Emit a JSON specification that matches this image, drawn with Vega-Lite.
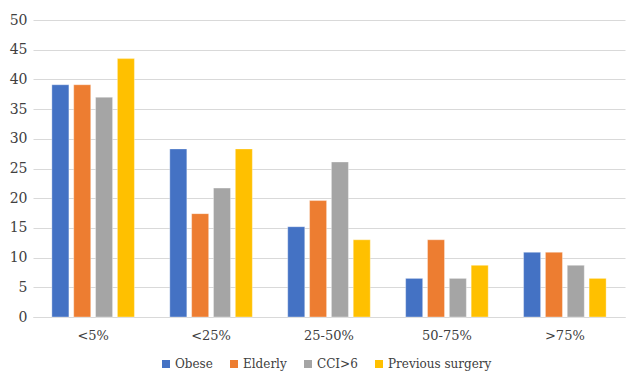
{
  "$schema": "https://vega.github.io/schema/vega-lite/v6.json",
  "autosize": {"type": "none"},
  "width": 592,
  "height": 297,
  "padding": {"left": 33, "top": 20, "right": 7, "bottom": 57},
  "background": "white",
  "config": {
    "view": {"stroke": null},
    "font": "DejaVu Serif"
  },
  "data": {
    "values": [
      {"range": "<5%", "group": "Obese", "value": 39.1},
      {"range": "<5%", "group": "Elderly", "value": 39.1},
      {"range": "<5%", "group": "CCI>6", "value": 37.0},
      {"range": "<5%", "group": "Previous surgery", "value": 43.5},
      {"range": "<25%", "group": "Obese", "value": 28.3},
      {"range": "<25%", "group": "Elderly", "value": 17.4},
      {"range": "<25%", "group": "CCI>6", "value": 21.7},
      {"range": "<25%", "group": "Previous surgery", "value": 28.3},
      {"range": "25-50%", "group": "Obese", "value": 15.2},
      {"range": "25-50%", "group": "Elderly", "value": 19.6},
      {"range": "25-50%", "group": "CCI>6", "value": 26.1},
      {"range": "25-50%", "group": "Previous surgery", "value": 13.0},
      {"range": "50-75%", "group": "Obese", "value": 6.5},
      {"range": "50-75%", "group": "Elderly", "value": 13.0},
      {"range": "50-75%", "group": "CCI>6", "value": 6.5},
      {"range": "50-75%", "group": "Previous surgery", "value": 8.7},
      {"range": ">75%", "group": "Obese", "value": 10.9},
      {"range": ">75%", "group": "Elderly", "value": 10.9},
      {"range": ">75%", "group": "CCI>6", "value": 8.7},
      {"range": ">75%", "group": "Previous surgery", "value": 6.5}
    ]
  },
  "mark": {"type": "bar", "stroke": "white", "strokeOpacity": 0.35, "strokeWidth": 1},
  "encoding": {
    "x": {
      "field": "range",
      "type": "nominal",
      "sort": ["<5%", "<25%", "25-50%", "50-75%", ">75%"],
      "scale": {"paddingInner": 0.3, "paddingOuter": 0.16},
      "axis": {
        "title": null,
        "labelAngle": 0,
        "labelFont": "DejaVu Serif",
        "labelFontSize": 13,
        "labelColor": "#404040",
        "labelPadding": 12,
        "ticks": false,
        "domainColor": "#D9D9D9",
        "domainWidth": 1
      }
    },
    "xOffset": {
      "field": "group",
      "type": "nominal",
      "sort": ["Obese", "Elderly", "CCI>6", "Previous surgery"],
      "scale": {"paddingInner": 0.22, "paddingOuter": 0}
    },
    "y": {
      "field": "value",
      "type": "quantitative",
      "scale": {"domain": [0, 50]},
      "axis": {
        "title": null,
        "values": [0, 5, 10, 15, 20, 25, 30, 35, 40, 45, 50],
        "labelFont": "DejaVu Serif",
        "labelFontSize": 14,
        "labelColor": "#404040",
        "labelPadding": 6,
        "ticks": false,
        "domain": false,
        "gridColor": "#D9D9D9",
        "gridWidth": 1
      }
    },
    "color": {
      "field": "group",
      "type": "nominal",
      "sort": ["Obese", "Elderly", "CCI>6", "Previous surgery"],
      "scale": {
        "domain": ["Obese", "Elderly", "CCI>6", "Previous surgery"],
        "range": ["#4472C4", "#ED7D31", "#A5A5A5", "#FFC000"]
      },
      "legend": {
        "title": null,
        "orient": "none",
        "direction": "horizontal",
        "legendX": 127,
        "legendY": 338,
        "symbolType": "square",
        "symbolSize": 64,
        "symbolStrokeWidth": 0,
        "labelFont": "DejaVu Serif",
        "labelFontSize": 12,
        "labelColor": "#404040",
        "labelOffset": 3,
        "columnPadding": 15
      }
    }
  }
}
